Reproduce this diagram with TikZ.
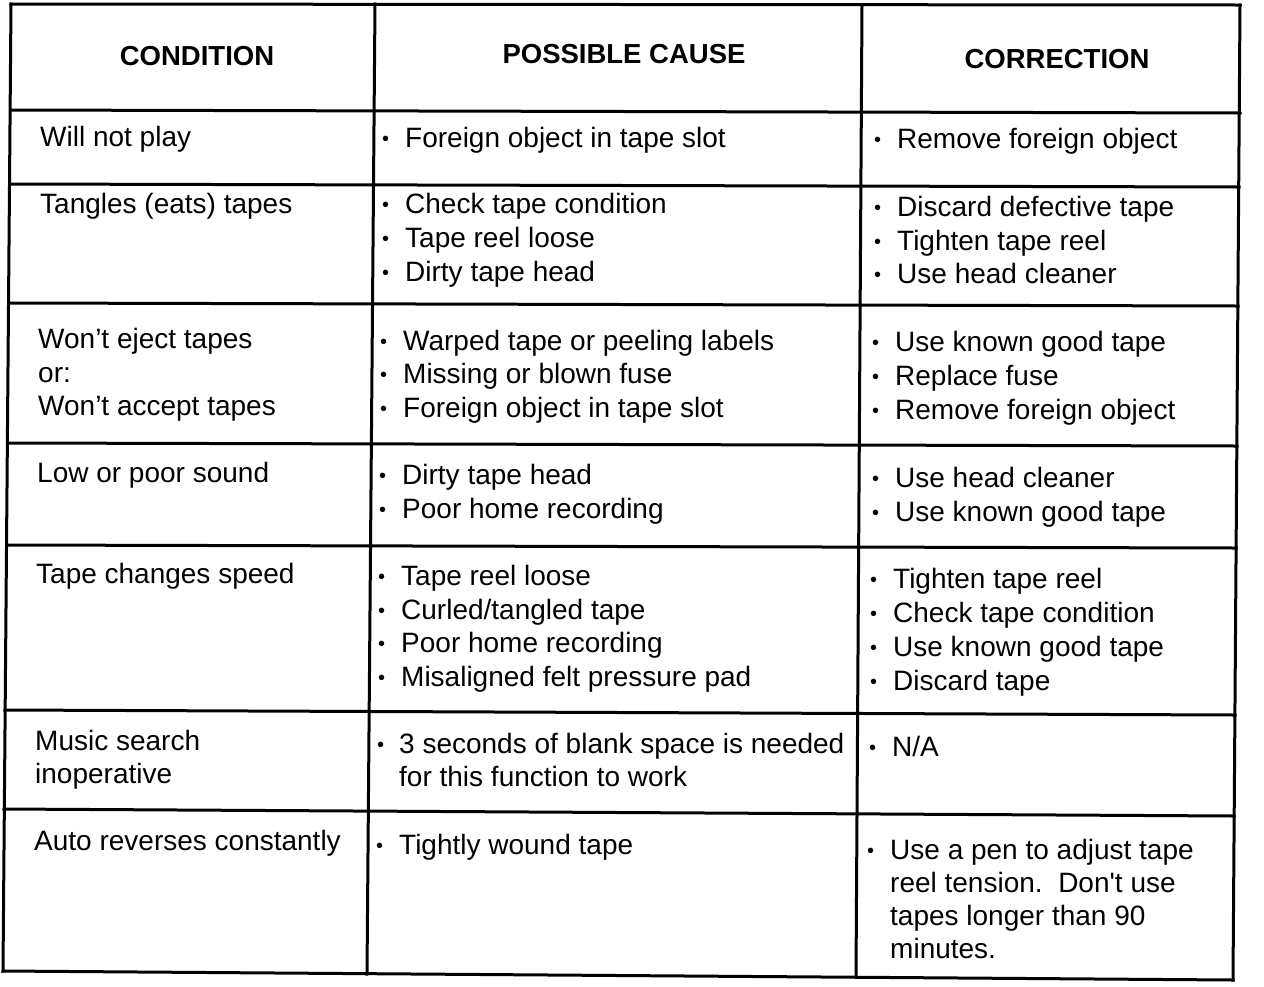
\documentclass[tikz,border=0pt]{standalone}
\usepackage{fontspec}
\setmainfont{Liberation Sans}
\tikzset{
  cell/.style={anchor=base west,inner sep=0pt,font=\fontsize{28}{33}\selectfont},
  dot/.style={anchor=base west,inner sep=0pt,font=\fontsize{20}{24}\selectfont},
  head/.style={anchor=base,inner sep=0pt,font=\fontsize{27.5}{33}\selectfont\bfseries},
  rule/.style={line width=3pt,line cap=rect}
}
\begin{document}
\begin{tikzpicture}[x=1pt,y=-1pt]
                \useasboundingbox (0,0) rectangle (1264,986);

                % grid
                \draw[rule] (11,4) -- (1240,5); \draw[rule] (11,110) -- (1240,113);
                \draw[rule] (10,184) -- (1239,187); \draw[rule] (9,303) -- (1238,306);
                \draw[rule] (8,443) -- (1237,446); \draw[rule] (7,545) -- (1236,548);
                \draw[rule] (5,710) -- (1235,715); \draw[rule] (4,809) -- (1234,816);
                \draw[rule] (3,971) -- (1233,980);
                \draw[rule] (11,4) -- (3,971); \draw[rule] (375,4) -- (367,974);
                \draw[rule] (862,5) -- (856,977); \draw[rule] (1240,5) -- (1233,980);

                % header
                \node[head] (hC) at (197,65) {CONDITION};
                \node[head] (hP) at (624,63) {POSSIBLE CAUSE};
                \node[head] (hR) at (1057,68) {CORRECTION};

                % row 1
                \node[cell] (C1) at (40,146) {Will not play};
                \node[dot] (P1b) at (382,145) {\textbullet}; \node[cell] (P1) at (405,147) {Foreign object in tape slot};
                \node[dot] (R1b) at (874,146) {\textbullet}; \node[cell] (R1) at (897,148) {Remove foreign object};

                % row 2
                \node[cell] (C2) at (40,213) {Tangles (eats) tapes};
                \node[dot] (P2b1) at (382,211) {\textbullet}; \node[cell] (P2a) at (405,213) {Check tape condition};
                \node[dot] (P2b2) at (382,245) {\textbullet}; \node[cell] (P2b) at (405,247) {Tape reel loose};
                \node[dot] (P2b3) at (382,279) {\textbullet}; \node[cell] (P2c) at (405,281) {Dirty tape head};
                \node[dot] (R2b1) at (874,214) {\textbullet}; \node[cell] (R2a) at (897,216) {Discard defective tape};
                \node[dot] (R2b2) at (874,248) {\textbullet}; \node[cell] (R2b) at (897,250) {Tighten tape reel};
                \node[dot] (R2b3) at (874,281) {\textbullet}; \node[cell] (R2c) at (897,283) {Use head cleaner};

                % row 3
                \node[cell] (C3a) at (38,348) {Won’t eject tapes};
                \node[cell] (C3b) at (38,382) {or:};
                \node[cell] (C3c) at (38,415) {Won’t accept tapes};
                \node[dot] (P3b1) at (380,348) {\textbullet}; \node[cell] (P3a) at (403,350) {Warped tape or peeling labels};
                \node[dot] (P3b2) at (380,381) {\textbullet}; \node[cell] (P3b) at (403,383) {Missing or blown fuse};
                \node[dot] (P3b3) at (380,415) {\textbullet}; \node[cell] (P3c) at (403,417) {Foreign object in tape slot};
                \node[dot] (R3b1) at (872,349) {\textbullet}; \node[cell] (R3a) at (895,351) {Use known good tape};
                \node[dot] (R3b2) at (872,383) {\textbullet}; \node[cell] (R3b) at (895,385) {Replace fuse};
                \node[dot] (R3b3) at (872,417) {\textbullet}; \node[cell] (R3c) at (895,419) {Remove foreign object};

                % row 4
                \node[cell] (C4) at (37,482) {Low or poor sound};
                \node[dot] (P4b1) at (379,482) {\textbullet}; \node[cell] (P4a) at (402,484) {Dirty tape head};
                \node[dot] (P4b2) at (379,516) {\textbullet}; \node[cell] (P4b) at (402,518) {Poor home recording};
                \node[dot] (R4b1) at (872,485) {\textbullet}; \node[cell] (R4a) at (895,487) {Use head cleaner};
                \node[dot] (R4b2) at (872,519) {\textbullet}; \node[cell] (R4b) at (895,521) {Use known good tape};

                % row 5
                \node[cell] (C5) at (36,583) {Tape changes speed};
                \node[dot] (P5b1) at (378,583) {\textbullet}; \node[cell] (P5a) at (401,585) {Tape reel loose};
                \node[dot] (P5b2) at (378,617) {\textbullet}; \node[cell] (P5b) at (401,619) {Curled/tangled tape};
                \node[dot] (P5b3) at (378,650) {\textbullet}; \node[cell] (P5c) at (401,652) {Poor home recording};
                \node[dot] (P5b4) at (378,684) {\textbullet}; \node[cell] (P5d) at (401,686) {Misaligned felt pressure pad};
                \node[dot] (R5b1) at (870,586) {\textbullet}; \node[cell] (R5a) at (893,588) {Tighten tape reel};
                \node[dot] (R5b2) at (870,620) {\textbullet}; \node[cell] (R5b) at (893,622) {Check tape condition};
                \node[dot] (R5b3) at (870,654) {\textbullet}; \node[cell] (R5c) at (893,656) {Use known good tape};
                \node[dot] (R5b4) at (870,688) {\textbullet}; \node[cell] (R5d) at (893,690) {Discard tape};

                % row 6
                \node[cell] (C6a) at (35,750) {Music search};
                \node[cell] (C6b) at (35,783) {inoperative};
                \node[dot] (P6b1) at (377,751) {\textbullet}; \node[cell] (P6a) at (399,753) {3 seconds of blank space is needed};
                \node[cell] (P6b) at (399,786) {for this function to work};
                \node[dot] (R6b1) at (869,754) {\textbullet}; \node[cell] (R6) at (892,756) {N/A};

                % row 7
                \node[cell] (C7) at (34,850) {Auto reverses constantly};
                \node[dot] (P7b1) at (376,852) {\textbullet}; \node[cell] (P7) at (399,854) {Tightly wound tape};
                \node[dot] (R7b1) at (867,857) {\textbullet}; \node[cell] (R7a) at (890,859) {Use a pen to adjust tape};
                \node[cell] (R7b) at (890,892) {reel tension.\ \ Don\textquotesingle t use};
                \node[cell] (R7c) at (890,925) {tapes longer than 90};
                \node[cell] (R7d) at (890,958) {minutes.};
            \end{tikzpicture}
\end{document}
